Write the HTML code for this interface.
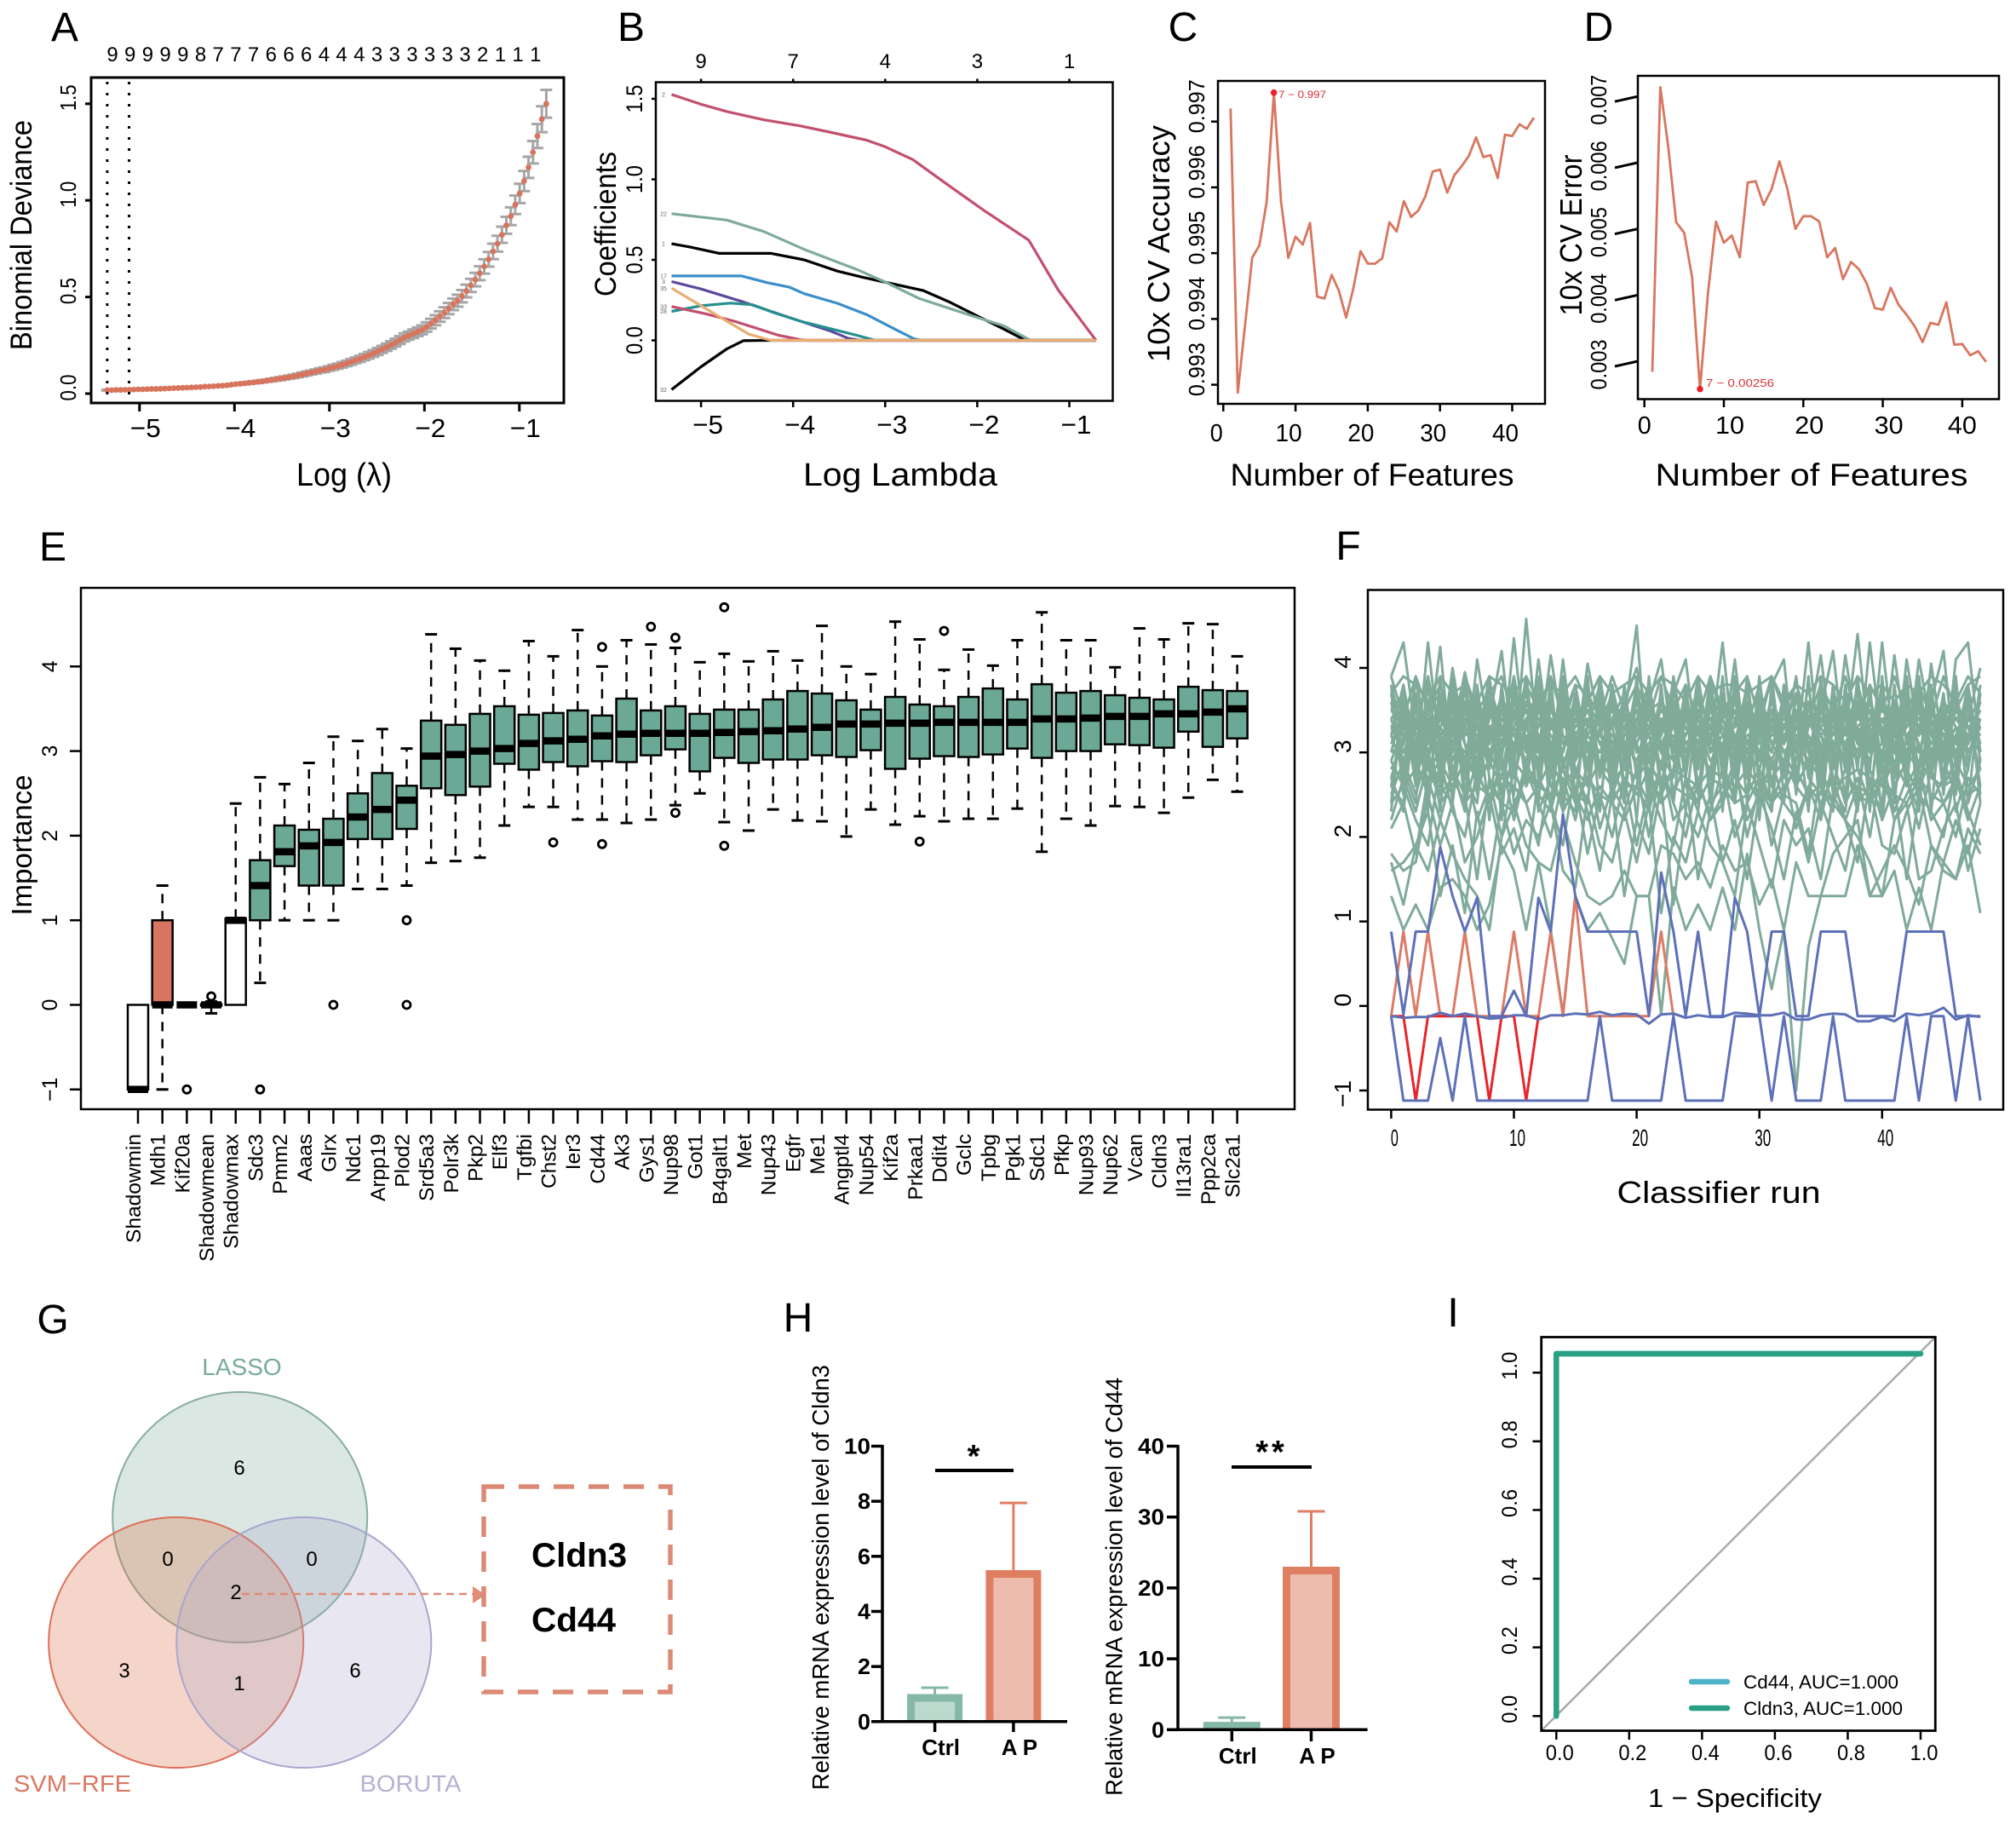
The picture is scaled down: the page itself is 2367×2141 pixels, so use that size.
<!DOCTYPE html>
<html lang="en">
<head>
<meta charset="utf-8">
<title>Feature selection figure</title>
<style>
html,body{margin:0;padding:0;background:#fff}
svg{display:block}
text{font-family:"Liberation Sans",sans-serif}
</style>
</head>
<body>
<svg id="root" xmlns="http://www.w3.org/2000/svg" width="2367" height="2141" viewBox="0 0 2367 2141">
<rect x="0" y="0" width="2367" height="2141" fill="#fff"/>

<text x="76" y="48" font-size="48" text-anchor="middle">A</text>
<text x="741" y="48" font-size="48" text-anchor="middle">B</text>
<text x="1389" y="48" font-size="48" text-anchor="middle">C</text>
<text x="1877" y="48" font-size="48" text-anchor="middle">D</text>
<text x="62" y="658" font-size="48" text-anchor="middle">E</text>
<text x="1583" y="657" font-size="48" text-anchor="middle">F</text>
<text x="62" y="1565" font-size="48" text-anchor="middle">G</text>
<text x="937" y="1563" font-size="48" text-anchor="middle">H</text>
<text x="1706" y="1557" font-size="48" text-anchor="middle">I</text>

<g id="panelA">
  <text x="37" y="276" transform="rotate(-90 37 276)" font-size="35" text-anchor="middle" textLength="270" lengthAdjust="spacingAndGlyphs">Binomial Deviance</text>
  <text x="404" y="570" font-size="38" text-anchor="middle" textLength="112" lengthAdjust="spacingAndGlyphs">Log (λ)</text>
</g>
<g id="panelB">
  <text x="723" y="263" transform="rotate(-90 723 263)" font-size="35" text-anchor="middle" textLength="170" lengthAdjust="spacingAndGlyphs">Coefficients</text>
  <text x="1057" y="570" font-size="38" text-anchor="middle" textLength="228" lengthAdjust="spacingAndGlyphs">Log Lambda</text>
</g>
<g id="panelC">
  <text x="1373" y="286" transform="rotate(-90 1373 286)" font-size="36" text-anchor="middle" textLength="278" lengthAdjust="spacingAndGlyphs">10x CV Accuracy</text>
  <text x="1611" y="570" font-size="37" text-anchor="middle" textLength="333" lengthAdjust="spacingAndGlyphs">Number of Features</text>
</g>
<g id="panelD">
  <text x="1857" y="276" transform="rotate(-90 1857 276)" font-size="36" text-anchor="middle" textLength="189" lengthAdjust="spacingAndGlyphs">10x CV Error</text>
  <text x="2127" y="570" font-size="37" text-anchor="middle" textLength="367" lengthAdjust="spacingAndGlyphs">Number of Features</text>
</g>
<g id="panelE">
  <text x="37" y="992" transform="rotate(-90 37 992)" font-size="33" text-anchor="middle" textLength="165" lengthAdjust="spacingAndGlyphs">Importance</text>
</g>
<g id="panelF">
  <text x="2018" y="1412" font-size="36" text-anchor="middle" textLength="239" lengthAdjust="spacingAndGlyphs">Classifier run</text>
</g>

<g id="panelG">
  <ellipse cx="281.7" cy="1781" rx="149.5" ry="147" fill="#7fab9a" fill-opacity="0.29" stroke="#86ad9f" stroke-width="2"/>
  <ellipse cx="206.7" cy="1928" rx="149.5" ry="147" fill="#dd6f45" fill-opacity="0.29" stroke="#dd6f58" stroke-width="2"/>
  <ellipse cx="356.8" cy="1928" rx="149.5" ry="147" fill="#a9a6cd" fill-opacity="0.27" stroke="#a9a6cd" stroke-width="2"/>
  <text x="284" y="1614" font-size="28" text-anchor="middle" fill="#77ab9b">LASSO</text>
  <text x="85" y="2103" font-size="28" text-anchor="middle" fill="#d97862" textLength="138" lengthAdjust="spacingAndGlyphs">SVM−RFE</text>
  <text x="482" y="2103" font-size="28" text-anchor="middle" fill="#b4b3d4" textLength="119" lengthAdjust="spacingAndGlyphs">BORUTA</text>
  <text x="281" y="1731" font-size="24" text-anchor="middle">6</text>
  <text x="197" y="1838" font-size="24" text-anchor="middle">0</text>
  <text x="366" y="1838" font-size="24" text-anchor="middle">0</text>
  <text x="277" y="1877" font-size="24" text-anchor="middle">2</text>
  <text x="146" y="1969" font-size="24" text-anchor="middle">3</text>
  <text x="281" y="1984" font-size="24" text-anchor="middle">1</text>
  <text x="417" y="1969" font-size="24" text-anchor="middle">6</text>
  <line x1="284" y1="1871" x2="557" y2="1871" stroke="#e08c76" stroke-width="2.5" stroke-dasharray="9 6"/>
  <polygon points="555,1862 570,1872 555,1882" fill="#e08c76"/>
  <rect x="568" y="1745" width="219" height="241" fill="none" stroke="#dc8a75" stroke-width="5.5" stroke-dasharray="24 17"/>
  <text x="624" y="1839" font-size="40" font-weight="bold" textLength="112" lengthAdjust="spacingAndGlyphs">Cldn3</text>
  <text x="624" y="1915" font-size="40" font-weight="bold" textLength="99" lengthAdjust="spacingAndGlyphs">Cd44</text>
</g>

<g id="panelH">
  <text x="973" y="1851.6" transform="rotate(-90 973 1851.6)" font-size="28" text-anchor="middle" textLength="499" lengthAdjust="spacingAndGlyphs">Relative mRNA expression level of Cldn3</text>
  <text x="1317.7" y="1862.4" transform="rotate(-90 1317.7 1862.4)" font-size="28" text-anchor="middle" textLength="491" lengthAdjust="spacingAndGlyphs">Relative mRNA expression level of Cd44</text>
  <line x1="1098" y1="1726" x2="1190" y2="1726" stroke="#000" stroke-width="4"/>
  <text x="1143" y="1722" font-size="38" font-weight="bold" text-anchor="middle">*</text>
  <line x1="1446" y1="1722" x2="1540" y2="1722" stroke="#000" stroke-width="4"/>
  <text x="1493" y="1717" font-size="38" font-weight="bold" text-anchor="middle" letter-spacing="4">**</text>
</g>

<g id="panelI">
  <text x="2037" y="2121" font-size="31" text-anchor="middle" textLength="204" lengthAdjust="spacingAndGlyphs">1 − Specificity</text>
  <line x1="1809.7" y1="2031.5" x2="2272.3" y2="1569.5" stroke="#aaa" stroke-width="2.5"/>
  <line x1="1986" y1="1974" x2="2028" y2="1974" stroke="#4db3c9" stroke-width="6.5" stroke-linecap="round"/>
  <text x="2047" y="1982" font-size="22" textLength="182" lengthAdjust="spacingAndGlyphs">Cd44, AUC=1.000</text>
  <line x1="1986" y1="2005" x2="2028" y2="2005" stroke="#2aa085" stroke-width="6.5" stroke-linecap="round"/>
  <text x="2047" y="2013" font-size="22" textLength="187" lengthAdjust="spacingAndGlyphs">Cldn3, AUC=1.000</text>
</g>
</svg>

<script>
/* ---------- Panel A data ---------- */
const aStartLogLambda = -5.34;
const aStepLogLambda = 0.0467;
const aDeviance = [.018,.018,.019,.019,.020,.020,.021,.022,.022,.023,.024,.024,.025,.026,.027,.028,.029,.030,.031,.032,.033,.034,.036,.037,.038,.040,.041,.043,.046,.049,.051,.053,.056,.058,.061,.064,.067,.070,.074,.077,.081,.085,.089,.094,.099,.104,.109,.114,.120,.124,.130,.136,.142,.149,.156,.164,.172,.180,.189,.198,.208,.218,.229,.240,.252,.264,.277,.291,.300,.310,.320,.330,.345,.362,.380,.399,.419,.440,.462,.481,.504,.531,.560,.590,.623,.658,.695,.736,.776,.822,.871,.918,.977,1.036,1.100,1.171,1.249,1.333,1.420,1.500];
const aStdErr = [.002,.002,.002,.002,.002,.002,.002,.002,.002,.002,.002,.002,.002,.002,.002,.002,.002,.003,.003,.003,.003,.003,.003,.003,.003,.003,.004,.004,.004,.004,.005,.005,.005,.005,.006,.006,.006,.007,.007,.008,.008,.008,.009,.009,.010,.010,.010,.011,.011,.012,.012,.013,.013,.014,.014,.015,.015,.016,.016,.017,.017,.018,.018,.019,.019,.020,.020,.021,.021,.022,.022,.023,.024,.025,.026,.027,.028,.029,.030,.031,.032,.033,.034,.035,.036,.037,.038,.040,.041,.042,.044,.046,.048,.050,.052,.055,.058,.062,.067,.072];
const aTopCounts = ['9','9','9','9','9','8','7','7','7','6','6','6','4','4','4','3','3','3','3','3','3','2','1','1','1'];
const aXTicks = [-5,-4,-3,-2,-1];
const aYTicks = [0,0.5,1,1.5];
const aCutoffs = [-5.34,-5.11];

/* ---------- Panel B data ---------- */
const bXTicks = [-5,-4,-3,-2,-1];
const bYTicks = [0,0.5,1,1.5];
const bTopLabels = ['9','7','4','3','1'];
const bLambdaRed = [-5.32,-5,-4.72,-4.32,-3.92,-3.52,-3.2,-3,-2.7,-2.32,-1.92,-1.44,-1.12,-0.71];
const bCoefRed = [1.527,1.466,1.421,1.37,1.332,1.283,1.243,1.202,1.123,.966,.804,.622,.312,0];
const bLambdaGreen = [-5.32,-4.72,-4.32,-3.88,-3.31,-2.99,-2.63,-2.31,-1.99,-1.71,-1.42,-0.71];
const bCoefGreen = [.787,.747,.676,.565,.441,.36,.26,.2,.14,.09,0,0];
const bLambdaBlack = [-5.32,-5.12,-4.8,-4.52,-4.24,-3.88,-3.52,-3.23,-2.99,-2.59,-2.31,-2.03,-1.71,-1.51,-1.42,-0.71];
const bCoefBlack = [.6,.58,.54,.54,.54,.5,.43,.39,.36,.31,.24,.16,.07,.01,0,0];
const bLambdaBlue = [-5.32,-4.96,-4.56,-4.28,-4.04,-3.88,-3.52,-3.2,-2.88,-2.68,-2.6,-0.71];
const bCoefBlue = [.4,.4,.4,.358,.33,.29,.23,.16,.065,.008,0,0];
const bLambdaPurple = [-5.32,-5,-4.56,-4.24,-3.92,-3.6,-3.4,-3.27,-0.71];
const bCoefPurple = [.365,.319,.242,.18,.119,.059,.012,0,0];
const bLambdaTeal = [-5.32,-5,-4.68,-4.44,-4.2,-3.92,-3.6,-3.31,-3.11,-0.71];
const bCoefTeal = [.18,.215,.231,.221,.17,.119,.073,.032,0,0];
const bLambdaRose = [-5.32,-4.96,-4.64,-4.44,-4.16,-3.92,-3.84,-0.71];
const bCoefRose = [.21,.166,.119,.083,.032,.004,0,0];
const bLambdaNeg = [-5.32,-5,-4.72,-4.54,-4.24,-0.71];
const bCoefNeg = [-.306,-.164,-.053,-.002,0,0];
const bLambdaOrange = [-5.32,-5,-4.72,-4.48,-4.24,-0.71];
const bCoefOrange = [.324,.215,.119,.038,0,0];

/* ---------- Panels C & D data ---------- */
const cFeatureTicks = [0,10,20,30,40];
const cYTicks = [0.993,0.994,0.995,0.996,0.997];
const cAccuracy = [.99720,.99288,.99389,.99493,.99512,.99578,.99744,.99578,.99493,.99525,.99513,.99546,.99434,.99431,.99467,.99443,.99402,.99446,.99503,.99484,.99484,.99492,.99547,.99533,.99579,.99555,.99565,.99587,.99624,.99627,.99592,.99619,.99632,.99648,.99676,.99646,.99649,.99614,.99680,.99678,.99696,.99689,.99706];
const dFeatureTicks = [0,10,20,30,40];
const dYTicks = [0.003,0.004,0.005,0.006,0.007];
const dError = [.00284,.00714,.00624,.0051,.00494,.00427,.00258,.00402,.00511,.00479,.0049,.00457,.0057,.00572,.00536,.0056,.00602,.0056,.005,.00519,.00519,.00511,.00457,.00471,.00424,.0045,.00439,.00417,.0038,.00378,.00411,.00385,.0037,.00353,.00329,.00358,.00355,.00389,.00325,.00326,.00309,.00315,.00299];

/* ---------- Panel E data ---------- */
const eNames = ['Shadowmin','Mdh1','Kif20a','Shadowmean','Shadowmax','Sdc3','Pmm2','Aaas','Glrx','Ndc1','Arpp19','Plod2','Srd5a3','Polr3k','Pkp2','Elf3','Tgfbi','Chst2','Ier3','Cd44','Ak3','Gys1','Nup98','Got1','B4galt1','Met','Nup43','Egfr','Me1','Angptl4','Nup54','Kif2a','Prkaa1','Ddit4','Gclc','Tpbg','Pgk1','Sdc1','Pfkp','Nup93','Nup62','Vcan','Cldn3','Il13ra1','Ppp2ca','Slc2a1'];
const eLow = [-1,-1,0,-.1,0,.26,1,1,1,1.37,1.37,1.41,1.68,1.70,1.74,2.12,2.34,2.34,2.19,2.19,2.15,2.19,2.36,2.5,2.16,2.06,2.31,2.18,2.17,1.99,2.31,2.13,2.23,2.17,2.2,2.2,2.32,1.81,2.2,2.12,2.35,2.34,2.27,2.45,2.66,2.52];
const eQ1 = [-1,0,0,-.01,0,1,1.64,1.41,1.41,1.96,1.96,2.08,2.56,2.48,2.58,2.85,2.78,2.87,2.82,2.88,2.87,2.95,3.02,2.76,2.92,2.86,2.9,2.9,2.95,2.93,3.01,2.79,2.91,2.94,2.93,2.96,3.03,2.92,3.0,3.0,3.08,3.07,3.04,3.23,3.05,3.15];
const eMedian = [-1,0,0,0,1,1.41,1.81,1.88,1.92,2.22,2.31,2.42,2.94,2.96,3.0,3.03,3.09,3.12,3.14,3.18,3.2,3.21,3.21,3.21,3.22,3.23,3.24,3.26,3.28,3.32,3.32,3.33,3.33,3.34,3.34,3.34,3.34,3.38,3.38,3.39,3.41,3.41,3.44,3.44,3.46,3.5];
const eQ3 = [0,1,0,.01,1.02,1.71,2.12,2.07,2.2,2.5,2.74,2.59,3.36,3.31,3.44,3.53,3.43,3.45,3.48,3.42,3.62,3.48,3.53,3.44,3.49,3.49,3.61,3.71,3.68,3.6,3.49,3.64,3.55,3.53,3.64,3.74,3.61,3.79,3.69,3.71,3.66,3.63,3.61,3.76,3.72,3.71];
const eHigh = [0,1.41,0,.04,2.38,2.69,2.61,2.86,3.17,3.12,3.26,3.03,4.38,4.21,4.07,3.95,4.3,4.12,4.43,4.0,4.31,4.26,4.22,4.05,4.15,4.06,4.18,4.07,4.48,4.0,3.91,4.53,4.32,3.96,4.2,4.01,4.31,4.64,4.31,4.31,3.99,4.45,4.32,4.51,4.5,4.12];
const eOutliers = [[],[],[-1],[.1],[],[-1],[],[],[0],[],[],[1,0],[],[],[],[],[],[1.92],[],[4.23,1.9],[],[4.47],[4.34,2.27],[],[4.7,1.88],[],[],[],[],[],[],[],[1.93],[4.42],[],[],[],[],[],[],[],[],[],[],[],[]];
const eYTicks = [-1,0,1,2,3,4];

/* ---------- Panel F data ---------- */
const fXTicks = [0,10,20,30,40];
const fYTicks = [-1,0,1,2,3,4];
const fGreenRuns = [
[1.3,.9,1.2,.9,1.4,1.5,1.3,.9,1.2,1.9,1.6,.9,1.7,.9,-.1,1.3,.9,1.1,.8,.5,1.3,1.3,-.1,1.4,.9,1.2,.9,1.4,.9,1.8,.9,.2,.9,-1,.7,1.3,1.3,1.3,1.9,1.3,1.3,1.6,.9,1.4,.9,1.7,1.5,1.9,1.1],
[1.7,1.2,1.9,1.6,2.2,1.8,1.5,1.3,.9,2.0,2.4,1.9,1.7,1.6,2.2,1.7,1.3,1.2,1.3,1.6,1.3,1.3,1.9,1.8,1.5,1.7,1.4,1.9,1.6,1.7,1.2,1.5,.9,1.7,1.3,1.3,1.8,2.0,2.2,1.3,1.6,1.9,1.6,1.2,1.9,1.6,1.5,2.1,1.8],
[1.6,1.7,1.9,2.3,1.3,1.9,1.1,2.3,1.5,2.4,1.8,2.2,2.0,2.4,1.6,1.4,2.5,1.9,1.7,2.3,1.7,2.4,1.1,2.0,1.7,2.3,1.9,1.7,1.3,2.4,1.9,1.4,2.2,1.9,2.1,1.5,2.5,2.2,2.0,1.7,1.3,2.2,2.4,1.5,1.6,2.1,2.4,1.6,2.1],
[1.8,1.6,1.7,2.5,1.9,2.4,1.7,2.0,2.5,1.8,2.1,1.6,2.7,2.4,1.9,2.8,2.3,1.6,2.5,1.3,2.2,1.8,2.6,1.2,2.3,2.0,2.5,1.7,2.2,1.5,2.5,2.1,1.5,2.3,1.7,2.4,2.0,1.6,2.4,2.6,1.9,1.8,2.3,2.6,1.9,1.7,2.2,1.8,2.4],
[2.1,2.4,1.8,2.7,2.2,2.8,2.5,1.5,2.7,2.0,2.8,2.4,1.9,2.8,2.3,2.6,1.8,2.5,2.0,2.7,1.9,2.6,2.2,1.9,2.7,1.5,2.3,2.8,2.0,2.4,2.7,1.9,2.5,2.4,1.8,2.8,2.4,2.2,1.7,2.7,2.2,2.6,1.5,2.5,2.3,2.0,2.8,2.3,1.9],
[2.4,2.6,2.2,1.9,2.9,2.3,2.0,2.8,2.4,2.9,2.2,2.8,2.4,2.0,2.7,2.2,2.9,2.1,2.6,2.3,2.8,2.0,2.9,2.4,2.0,2.7,2.2,2.5,2.9,2.0,2.6,2.4,2.8,2.1,2.6,2.2,2.9,2.4,2.7,2.0,2.9,2.3,2.7,2.1,2.8,2.4,2.0,2.7,2.5],
[3.9,4.3,3.2,2.6,3.5,3.0,3.9,2.8,3.4,4.2,2.9,3.6,3.1,2.7,3.8,3.2,2.9,3.6,3.1,3.4,4.5,2.6,3.3,3.8,2.8,3.5,3.1,4.3,2.9,3.4,3.7,2.6,3.5,3.0,4.3,2.8,3.6,3.2,4.4,3.0,3.3,2.7,4.1,3.2,3.6,4.2,2.8,3.4,4.0],
[2.6,3.4,2.8,4.3,3.0,3.6,2.7,4.1,3.2,2.9,4.35,3.0,3.7,2.8,4.1,2.9,4.05,3.3,2.7,3.6,4.0,3.4,2.8,3.7,4.1,2.9,3.6,3.0,4.1,2.8,3.5,3.8,4.1,2.7,3.3,4.15,3.0,3.7,2.8,4.3,3.1,3.6,2.9,4.1,3.3,2.7,4.1,4.3,3.0],
[3.2,2.8,3.9,3.1,4.25,2.7,3.5,3.0,3.8,3.3,2.8,4.58,3.0,4.15,3.2,2.9,3.6,3.9,3.0,3.3,2.8,3.6,4.1,3.0,3.5,2.8,3.9,3.4,3.0,3.6,2.9,3.7,3.1,3.9,2.7,3.5,4.2,2.9,3.6,3.1,3.8,2.8,3.4,3.9,2.7,3.5,3.1,3.8,2.9],
[3.5,3.7,2.7,3.3,2.9,4.0,3.1,2.6,3.7,3.0,3.5,2.8,4.1,3.0,3.6,2.7,3.3,3.8,2.9,3.5,3.1,2.7,3.6,3.3,2.9,3.9,3.0,3.4,3.7,2.8,3.3,3.9,2.7,3.5,3.0,3.6,2.9,4.15,3.2,2.8,4.3,3.0,3.6,2.8,4.05,3.0,3.7,3.1,3.6],
[2.8,3.1,3.5,2.9,3.6,3.2,3.95,3.3,2.8,3.5,3.0,3.9,2.7,3.4,3.0,3.7,2.8,3.3,3.7,2.9,3.4,3.8,3.0,2.7,3.5,3.1,3.7,2.8,3.4,3.0,3.6,3.3,2.8,3.7,3.1,2.7,3.5,3.0,3.8,3.3,2.9,4.15,3.1,3.5,2.9,3.6,3.3,2.8,3.7],
[3.0,3.6,2.6,3.8,2.8,3.4,2.9,3.7,3.1,3.6,2.7,3.3,3.8,2.9,3.5,3.0,3.7,2.7,3.4,3.0,3.6,3.2,2.8,3.9,3.0,3.3,2.7,3.6,3.1,3.8,2.9,3.4,3.0,2.7,3.6,3.2,2.8,3.5,3.1,3.7,2.9,3.3,2.7,3.6,3.0,3.4,3.7,3.0,3.3],
[3.4,2.9,3.3,3.9,3.2,2.7,3.6,3.1,3.9,2.8,3.3,3.7,3.0,3.6,2.8,3.4,3.1,2.8,3.6,3.0,3.8,2.9,3.4,3.1,3.7,3.0,2.8,3.5,3.2,2.7,3.4,3.0,3.7,3.1,2.9,3.8,3.2,3.5,2.9,3.4,3.6,3.0,2.8,3.7,3.2,2.9,3.5,3.3,2.8],
[2.9,3.3,3.0,3.5,2.7,3.8,3.3,2.9,3.5,3.2,3.9,3.1,2.8,3.5,3.3,3.8,3.0,3.6,2.8,3.2,3.5,3.0,3.7,2.9,3.2,3.6,3.3,2.9,3.7,3.1,3.0,3.5,2.7,3.3,3.6,3.0,3.4,2.8,3.5,3.0,3.7,3.2,2.9,3.3,3.7,2.7,3.2,3.6,3.1],
[3.7,2.7,3.6,3.0,3.4,3.1,2.8,3.5,3.0,2.7,3.6,3.3,3.4,3.0,3.9,3.1,3.4,2.8,3.8,3.1,2.9,3.3,3.0,3.5,2.7,3.8,3.1,3.3,2.8,3.5,3.2,2.9,3.3,3.5,3.0,3.3,3.0,3.6,3.2,2.9,3.4,3.0,3.5,3.1,2.8,3.4,3.0,3.2,3.5],
[3.1,3.5,2.9,3.2,3.6,2.9,3.3,3.7,2.9,3.4,3.2,2.9,3.5,3.2,3.0,3.5,2.8,3.5,3.3,2.8,3.3,3.6,3.1,2.9,3.4,3.0,3.5,3.2,2.9,3.3,3.8,3.1,2.9,3.4,3.2,2.9,3.6,3.0,3.3,3.5,2.8,3.4,3.2,3.0,3.5,3.2,2.9,3.7,3.0],
[3.3,3.0,3.4,2.8,3.0,3.5,3.1,2.9,3.3,3.0,3.4,3.6,3.2,2.9,3.4,2.9,3.2,3.0,3.4,3.7,3.0,3.2,3.5,3.3,3.0,3.3,2.9,3.1,3.5,3.0,2.8,3.3,3.5,3.0,2.8,3.4,3.1,3.3,3.0,3.6,3.2,2.8,3.6,3.3,3.0,3.1,3.6,2.9,3.4],
[2.7,3.2,3.1,3.4,3.3,3.0,3.4,3.2,3.1,3.7,3.0,3.2,2.9,3.3,3.1,3.3,3.5,3.1,2.9,3.1,3.3,2.9,3.2,3.6,3.3,3.0,3.3,3.7,3.0,3.2,3.3,2.8,3.2,3.0,3.4,3.1,2.8,3.3,3.7,3.2,3.0,3.5,3.0,2.8,3.3,3.5,3.1,3.0,3.3],
[3.6,3.4,3.3,3.1,3.1,3.3,2.8,3.4,3.6,3.1,3.3,3.0,3.3,3.7,2.9,3.1,3.3,3.4,3.2,3.0,3.2,3.4,3.0,3.2,2.9,3.4,3.0,3.2,3.3,3.7,3.1,3.3,3.0,3.2,3.3,3.5,3.3,3.1,2.9,3.2,3.4,3.1,3.3,3.5,3.1,3.3,3.0,3.4,3.2],
[3.0,3.1,3.7,3.3,3.5,3.2,3.0,3.3,3.0,3.3,3.1,3.4,3.6,3.1,3.3,3.5,3.1,3.2,3.0,3.5,3.0,3.1,3.4,3.0,3.6,3.2,3.4,3.0,3.2,2.9,3.4,3.1,3.3,3.7,3.1,3.2,3.0,3.4,3.3,3.0,3.1,3.3,3.8,3.0,3.4,3.0,3.3,3.1,3.6],
[3.2,3.8,3.0,3.6,3.1,3.4,3.6,3.0,3.3,3.1,3.7,3.1,3.0,3.4,3.2,3.0,3.6,3.3,3.5,3.2,3.4,3.0,3.3,3.1,3.3,3.0,3.6,3.3,3.0,3.4,3.2,3.0,3.6,3.1,3.4,3.0,3.3,3.1,3.5,3.3,3.6,3.0,3.1,3.3,3.5,3.2,3.4,3.2,3.0],
[3.8,3.2,3.4,3.0,3.3,3.6,3.2,3.5,3.2,3.5,3.4,3.7,3.3,3.6,3.1,3.4,3.2,3.5,3.1,3.3,3.6,3.4,3.1,3.4,3.2,3.5,3.2,3.4,3.6,3.1,3.5,3.3,3.1,3.4,3.5,3.2,3.4,3.6,3.1,3.4,3.2,3.5,3.3,3.6,3.2,3.5,3.1,3.4,3.6],
[3.3,3.5,3.1,3.5,3.7,3.1,3.5,3.3,3.6,3.3,3.2,3.5,3.1,3.3,3.6,3.2,3.5,3.1,3.3,3.6,3.2,3.5,3.3,3.6,3.1,3.3,3.5,3.2,3.3,3.5,3.2,3.6,3.3,3.1,3.3,3.6,3.1,3.3,3.2,3.5,3.3,3.1,3.4,3.2,3.5,3.3,3.6,3.3,3.2],
[3.5,3.3,3.5,3.3,3.4,3.5,3.3,3.1,3.4,3.6,3.5,3.3,3.4,3.5,3.3,3.6,3.3,3.4,3.5,3.4,3.5,3.3,3.5,3.3,3.4,3.6,3.4,3.5,3.2,3.3,3.4,3.5,3.2,3.3,3.6,3.4,3.5,3.2,3.4,3.3,3.5,3.3,3.5,3.4,3.3,3.6,3.4,3.5,3.3],
[2.5,2.9,2.5,3.0,2.5,2.7,2.4,2.6,2.5,2.7,2.6,2.4,2.6,2.5,2.8,2.4,2.7,2.5,2.4,2.7,2.5,2.8,2.4,2.6,2.5,2.4,2.7,2.6,2.4,2.5,2.8,2.4,2.6,2.8,2.5,2.6,2.4,2.8,2.5,2.4,2.7,2.5,2.4,2.7,2.5,2.4,2.6,2.5,2.6],
[3.7,3.9,3.8,3.6,3.9,3.7,3.8,3.6,3.9,3.8,3.7,3.9,3.6,3.8,3.7,3.9,3.6,3.9,3.7,3.8,3.9,3.7,3.9,3.8,3.6,3.9,3.7,3.8,3.8,3.7,3.8,3.9,3.6,3.8,3.7,3.9,3.8,3.6,3.9,3.7,3.8,3.6,3.8,3.7,3.9,3.8,3.6,3.9,3.7],
[2.9,2.6,2.8,2.7,2.9,2.6,2.9,2.7,2.9,2.6,2.9,2.7,2.6,2.9,2.6,2.8,2.6,2.9,2.7,2.8,2.7,2.9,2.6,2.8,2.7,2.6,2.8,2.7,2.6,2.8,2.6,2.7,2.9,2.6,2.9,2.7,2.6,2.7,2.8,2.7,2.6,2.9,2.6,2.9,2.7,2.6,2.9,2.6,2.8],
[3.4,3.6,3.2,3.4,3.2,3.4,3.7,3.4,3.3,3.4,3.2,3.1,3.6,3.3,3.5,3.3,3.4,3.2,3.6,3.4,3.1,3.5,3.6,3.4,3.3,3.2,3.6,3.5,3.4,3.6,3.3,3.2,3.4,3.3,3.1,3.3,3.5,3.4,3.6,3.1,3.4,3.4,3.2,3.4,3.2,3.3,3.5,3.3,3.4],
[2.4,3.8,2.6,3.4,2.3,3.9,2.5,3.6,2.2,3.8,2.7,3.4,2.4,3.9,2.3,3.6,2.6,3.8,2.4,3.5,2.2,3.9,2.6,3.4,2.3,3.7,2.5,3.9,2.4,3.6,2.2,3.8,2.7,3.5,2.3,3.9,2.5,3.6,2.4,3.8,2.2,3.5,2.6,3.9,2.3,3.7,2.5,3.8,2.4],
[3.8,2.5,3.7,2.3,3.9,2.4,3.6,2.5,3.8,2.2,3.9,2.6,3.7,2.3,3.6,2.4,3.9,2.3,3.7,2.5,3.9,2.3,3.8,2.4,3.6,2.5,3.8,2.3,3.9,2.4,3.7,2.3,3.8,2.5,3.9,2.2,3.7,2.4,3.8,2.3,3.9,2.4,3.7,2.3,3.8,2.5,3.9,2.4,3.7],
[2.7,2.3,3.6,2.6,2.8,3.7,2.4,2.9,3.7,2.5,2.9,3.8,2.3,2.7,3.8,2.5,2.4,3.7,2.9,2.4,3.7,2.6,2.5,3.8,2.7,2.3,3.6,2.9,2.4,3.8,2.6,2.3,3.7,2.8,2.5,3.7,2.6,2.3,3.6,2.8,2.4,3.8,2.7,2.3,3.6,2.9,2.5,3.6,2.6],
[2.3,3.7,2.9,2.5,3.7,2.8,2.3,3.8,2.7,2.4,3.7,2.6,2.9,3.7,2.5,2.3,3.8,2.8,2.6,3.8,2.7,2.4,3.7,2.5,2.9,3.8,2.4,2.6,3.7,2.7,2.4,3.7,2.5,2.9,3.8,2.6,2.3,3.8,2.8,2.4,3.7,2.6,2.9,3.8,2.4,2.7,3.8,2.4,2.9],
[3.6,2.8,2.4,3.9,2.6,2.4,3.8,2.6,2.9,3.7,2.4,2.7,3.9,2.6,2.4,3.7,2.8,2.3,3.8,2.6,2.6,3.7,2.5,2.8,3.8,2.6,2.3,3.7,2.7,2.5,3.9,2.6,2.4,3.7,2.7,2.5,3.8,2.9,2.3,3.7,2.6,2.4,3.9,2.6,2.9,3.7,2.3,2.8,3.8],
[2.6,2.4,3.9,2.8,2.5,3.8,2.7,2.4,3.6,2.8,2.5,3.9,2.7,2.4,3.7,2.8,2.4,3.9,2.5,2.9,3.8,2.7,2.4,3.6,2.7,2.4,3.9,2.7,2.5,3.9,2.7,2.4,3.8,2.6,2.4,3.6,2.7,2.5,3.9,2.6,2.3,3.6,2.8,2.5,3.7,2.6,2.7,3.7,2.5],
[2.2,2.7,2.3,2.9,2.4,2.6,2.9,2.2,2.6,2.4,2.3,2.9,2.5,2.3,2.9,2.5,2.2,2.6,2.4,2.2,2.6,2.3,2.9,2.2,2.4,2.7,2.2,2.4,2.8,2.2,2.5,2.9,2.4,2.2,2.6,2.4,2.7,2.2,2.6,2.5,2.8,2.2,2.5,2.8,2.2,2.4,2.7,2.2,2.6],
[3.9,3.4,3.9,3.5,3.8,3.3,3.9,3.5,3.7,3.9,3.4,3.8,3.5,3.9,3.4,3.8,3.7,3.4,3.9,3.5,3.8,3.4,3.9,3.5,3.8,3.4,3.9,3.5,3.7,3.9,3.4,3.9,3.5,3.8,3.4,3.8,3.5,3.9,3.4,3.8,3.5,3.9,3.5,3.8,3.4,3.9,3.5,3.8,3.9]
];
const fOrangeRun = [-.12,.88,-.12,.88,-.12,-.12,.88,-.12,-.12,-.12,.88,-.12,-.12,.88,-.12,1.3,-.12,-.12,-.12,-.12,-.12,-.12,.88,-.12];
const fRedRun = [-.12,-.12,-1.12,-.12,-.12,-.12,-.12,-.12,-1.12,-.12,-.12,-1.12,-.12];
const fBlueMax = [.88,-.1,.88,.88,1.88,1.3,.88,1.28,-.12,-.12,.18,-.12,1.28,.88,2.27,1.3,.88,.88,.88,.88,.88,-.12,1.58,.88,-.12,.88,-.12,-.12,1.28,.88,-.12,.88,.88,-.12,-.12,.88,.88,.88,-.12,-.12,-.12,-.12,.88,.88,.88,.88,-.12,-.12,-.12];
const fBlueMean = [-.12,-.14,-.13,-.13,-.08,-.12,-.09,-.12,-.15,-.14,-.11,-.11,-.16,-.11,-.11,-.09,-.1,-.07,-.11,-.09,-.1,-.21,-.1,-.09,-.14,-.11,-.13,-.13,-.08,-.09,-.11,-.11,-.08,-.16,-.16,-.11,-.09,-.1,-.18,-.18,-.13,-.18,-.09,-.11,-.09,-.02,-.16,-.11,-.13];
const fBlueMin = [-.12,-1.12,-1.12,-1.12,-.38,-1.12,-.12,-1.12,-1.12,-1.12,-1.12,-1.12,-1.12,-1.12,-1.12,-1.12,-1.12,-.12,-1.12,-1.12,-1.12,-1.12,-1.12,-.12,-1.12,-1.12,-1.12,-1.12,-.12,-.12,-.12,-1.12,-.12,-1.12,-1.12,-1.12,-.12,-1.12,-1.12,-1.12,-1.12,-1.12,-.12,-1.12,-.12,-.12,-1.12,-.12,-1.12];

/* ---------- Panel H data ---------- */
const hGroups = ['Ctrl','A P'];
const hCldn3Mean = [1,5.5];
const hCldn3Upper = [1.23,7.94];
const hCldn3Ticks = [0,2,4,6,8,10];
const hCd44Mean = [1.1,23];
const hCd44Upper = [1.7,30.8];
const hCd44Ticks = [0,10,20,30,40];

/* ---------- Panel I data ---------- */
const iFpr = [0,0,1];
const iTprCd44 = [0,1.055,1.055];
const iTprCldn3 = [0,1.055,1.055];
const iTicks = [0,0.2,0.4,0.6,0.8,1];

/* ---------- helpers ---------- */
const NS = 'http://www.w3.org/2000/svg';
function mk(tag, attrs, parent) {
  const el = document.createElementNS(NS, tag);
  for (const k in attrs) el.setAttribute(k, attrs[k]);
  parent.appendChild(el);
  return el;
}
function frame(parent, name, x0, y0, x1, y1, w) {
  const el = mk('rect', {x:x0, y:y0, width:x1-x0, height:y1-y0, fill:'none', stroke:'#000', 'stroke-width':w}, parent);
  
  
  return el;
}
function seg(parent, name, x1, y1, x2, y2, color, w, dash) {
  const el = mk('line', {x1:x1, y1:y1, x2:x2, y2:y2, stroke:color, 'stroke-width':w}, parent);
  if (dash) el.setAttribute('stroke-dasharray', dash);
  
  
  return el;
}
function trace(parent, name, xs, ys, color, w) {
  const pts = xs.map((x, i) => x.toFixed(1) + ',' + ys[i].toFixed(1)).join(' ');
  const el = mk('polyline', {points:pts, fill:'none', stroke:color, 'stroke-width':w, 'stroke-linejoin':'round'}, parent);
  
  
  return el;
}
function label(parent, name, s, x, y, o) {
  o = o || {};
  const el = mk('text', {x:x, y:y, 'font-size':o.size || 26, 'text-anchor':o.anchor || 'middle', fill:o.fill || '#000'}, parent);
  if (o.bold) el.setAttribute('font-weight', 'bold');
  if (o.rot) el.setAttribute('transform', 'rotate(' + o.rot + ' ' + x + ' ' + y + ')');
  if (o.len) { el.setAttribute('textLength', o.len); el.setAttribute('lengthAdjust', 'spacingAndGlyphs'); }
  el.textContent = s;
  
  
  return el;
}
function neg(v, digits) {
  const s = digits === undefined ? String(Math.abs(v)) : Math.abs(v).toFixed(digits);
  return (v < 0 ? '−' : '') + s;
}

/* ---------- Panel A ---------- */
(function () {
  const g = document.getElementById('panelA');
  const x = v => 163.8 + (v + 5) * 111.5;
  const y = v => 462 - v * 226.8;
  aDeviance.forEach((d, i) => {
    const lx = x(aStartLogLambda + i * aStepLogLambda);
    const e = aStdErr[i];
    seg(g, 'a-error-bar', lx, y(d - e), lx, y(d + e), '#a6a6a6', 3);
    seg(g, 'a-error-cap-high', lx - 7, y(d + e), lx + 7, y(d + e), '#a6a6a6', 3);
    seg(g, 'a-error-cap-low', lx - 7, y(d - e), lx + 7, y(d - e), '#a6a6a6', 3);
  });
  aDeviance.forEach((d, i) => {
    const c = mk('circle', {cx:x(aStartLogLambda + i * aStepLogLambda), cy:y(d), r:3.4, fill:'#d9745c'}, g);
    
    
  });
  aCutoffs.forEach(v => seg(g, 'a-lambda-cutoff', x(v), 96, x(v), 470, '#000', 3, '3 10'));
  frame(g, 'a-plot-frame', 107, 91, 662, 473, 3);
  aXTicks.forEach(v => {
    seg(g, 'a-x-tick', x(v), 473, x(v), 483, '#000', 3);
    label(g, 'a-x-tick-label', neg(v), x(v) + 7, 513, {size:31, len:36});
  });
  aYTicks.forEach(v => {
    seg(g, 'a-y-tick', 100, y(v), 107, y(v), '#000', 3);
    label(g, 'a-y-tick-label', v.toFixed(1), 89, y(v) - 7, {size:26, rot:-90, len:31});
  });
  aTopCounts.forEach((c, i) => {
    label(g, 'a-top-count', c, 132 + i * 20.7, 72, {size:24});
  });
})();

/* ---------- Panel B ---------- */
(function () {
  const g = document.getElementById('panelB');
  const x = v => 823.1 + (v + 5) * 108.1;
  const y = v => 399.5 - v * 189;
  const series = [
    ['b-path-black-negative', bLambdaNeg, bCoefNeg, '#000', '32'],
    ['b-path-black', bLambdaBlack, bCoefBlack, '#000', '1'],
    ['b-path-sage', bLambdaGreen, bCoefGreen, '#7fab9a', '22'],
    ['b-path-blue', bLambdaBlue, bCoefBlue, '#3a8fc9', '17'],
    ['b-path-purple', bLambdaPurple, bCoefPurple, '#5d4a9b', '3'],
    ['b-path-teal', bLambdaTeal, bCoefTeal, '#25908f', '28'],
    ['b-path-rose', bLambdaRose, bCoefRose, '#c2506e', '33'],
    ['b-path-crimson', bLambdaRed, bCoefRed, '#c2506e', '2'],
    ['b-path-orange', bLambdaOrange, bCoefOrange, '#e9ad72', '35']
  ];
  series.forEach(s => {
    trace(g, s[0], s[1].map(x), s[2].map(y), s[3], 3.2);
    label(g, 'b-path-id', s[4], 779, y(s[2][0]) + 2.5, {size:7, fill:'#666'});
  });
  frame(g, 'b-plot-frame', 770, 96.5, 1306.5, 470.5, 2.5);
  bXTicks.forEach((v, i) => {
    seg(g, 'b-x-tick', x(v), 470.5, x(v), 478, '#000', 2.5);
    seg(g, 'b-top-tick', x(v), 92.5, x(v), 96.5, '#000', 2.5);
    label(g, 'b-x-tick-label', neg(v), x(v) + 8, 509, {size:31, len:36});
    label(g, 'b-top-label', bTopLabels[i], x(v), 80, {size:24});
  });
  bYTicks.forEach(v => {
    seg(g, 'b-y-tick', 765, y(v), 770, y(v), '#000', 2.5);
    label(g, 'b-y-tick-label', v.toFixed(1), 754, y(v), {size:27, rot:-90, len:33});
  });
})();

/* ---------- Panel C ---------- */
(function () {
  const g = document.getElementById('panelC');
  const x = v => 1436.3 + v * 8.48;
  const y = v => 451.6 - (v - 0.993) * 77225;
  frame(g, 'c-plot-frame', 1430, 95, 1814, 474, 2.5);
  trace(g, 'c-accuracy-line', cAccuracy.map((_, i) => x(i + 1)), cAccuracy.map(y), '#d8765f', 2.8);
  const best = cAccuracy.indexOf(Math.max.apply(null, cAccuracy));
  const m = mk('circle', {cx:x(best + 1), cy:y(cAccuracy[best]), r:3.8, fill:'#e8212b'}, g);
  
  
  label(g, 'c-best-label', (best + 1) + ' − 0.997', 1501, 115, {size:12, anchor:'start', fill:'#d9303a', len:56});
  cFeatureTicks.forEach(v => {
    seg(g, 'c-x-tick', x(v), 474, x(v), 483, '#000', 2.5);
    label(g, 'c-x-tick-label', String(v), x(v) - 8, 518, {size:29, len:v ? 31 : 15});
  });
  cYTicks.forEach(v => {
    seg(g, 'c-y-tick', 1422, y(v), 1430, y(v), '#000', 2.5);
    label(g, 'c-y-tick-label', v.toFixed(3), 1414, y(v) - 18, {size:26, rot:-90, len:63});
  });
})();

/* ---------- Panel D ---------- */
(function () {
  const g = document.getElementById('panelD');
  const x = v => 1930.7 + v * 9.33;
  const y = v => 424 - (v - 0.003) * 77700;
  frame(g, 'd-plot-frame', 1923, 89, 2347, 468.5, 2.5);
  trace(g, 'd-error-line', dError.map((_, i) => x(i + 1)), dError.map(y), '#d8765f', 2.8);
  const best = dError.indexOf(Math.min.apply(null, dError));
  const m = mk('circle', {cx:x(best + 1), cy:y(dError[best]), r:3.8, fill:'#e8212b'}, g);
  
  
  label(g, 'd-best-label', (best + 1) + ' − 0.00256', 2003, 454, {size:13, anchor:'start', fill:'#d9303a', len:80});
  dFeatureTicks.forEach((v, i) => {
    seg(g, 'd-x-tick', x(v), 468.5, x(v), 478, '#000', 2.5);
    label(g, 'd-x-tick-label', String(v), x(v) + (v === 0 || v === 40 ? 0 : 7), 509, {size:29, len:v ? 34 : 16});
  });
  dYTicks.forEach(v => {
    seg(g, 'd-y-tick', 1896, y(v) + 6, 1923, y(v), '#000', 3);
    label(g, 'd-y-tick-label', v.toFixed(3), 1886, y(v) + 4, {size:26, rot:-90, len:59});
  });
})();

/* ---------- Panel E ---------- */
(function () {
  const g = document.getElementById('panelE');
  const x = i => 162 + i * 28.68;
  const y = v => 1179.5 - v * 99.3;
  frame(g, 'e-plot-frame', 95, 690, 1520, 1302, 2.5);
  eYTicks.forEach(v => {
    seg(g, 'e-y-tick', 82, y(v), 95, y(v), '#000', 2.5);
    label(g, 'e-y-tick-label', neg(v), 67, y(v), {size:25, rot:-90});
  });
  eNames.forEach((name, i) => {
    const cx = x(i);
    const isShadow = name.indexOf('Shadow') === 0;
    const isRejected = name === 'Mdh1' || name === 'Kif20a';
    const fill = isShadow ? '#fff' : (isRejected ? '#d87560' : '#6ba996');
    if (eHigh[i] > eQ3[i]) {
      seg(g, 'e-whisker-high', cx, y(eQ3[i]), cx, y(eHigh[i]), '#000', 2.5, '11 9');
      seg(g, 'e-cap-high', cx - 7, y(eHigh[i]), cx + 7, y(eHigh[i]), '#000', 3);
    }
    if (eLow[i] < eQ1[i]) {
      seg(g, 'e-whisker-low', cx, y(eQ1[i]), cx, y(eLow[i]), '#000', 2.5, '11 9');
      seg(g, 'e-cap-low', cx - 7, y(eLow[i]), cx + 7, y(eLow[i]), '#000', 3);
    }
    const b = mk('rect', {x:cx - 12, y:y(eQ3[i]), width:24, height:Math.max(0, y(eQ1[i]) - y(eQ3[i])), fill:fill, stroke:'#000', 'stroke-width':2.5}, g);
    
    
    seg(g, 'e-median', cx - 12, y(eMedian[i]), cx + 12, y(eMedian[i]), '#000', 8.5);
    eOutliers[i].forEach(o => {
      const c = mk('circle', {cx:cx, cy:y(o), r:4.5, fill:'none', stroke:'#000', 'stroke-width':2.8}, g);
      
      
    });
    seg(g, 'e-x-tick', cx, 1302, cx, 1319, '#000', 2.5);
    label(g, 'e-gene-label', name, cx + 3, 1331, {size:24.5, anchor:'end', rot:-90});
  });
})();

/* ---------- Panel F ---------- */
(function () {
  const g = document.getElementById('panelF');
  const x = v => 1633.4 + v * 14.41;
  const y = v => 1180.8 - v * 99.2;
  const xs = a => a.map((_, i) => x(i));
  fGreenRuns.forEach(r => trace(g, 'f-confirmed-gene-line', xs(r), r.map(y), '#80aa9a', 3));
  trace(g, 'f-orange-gene-line', xs(fOrangeRun), fOrangeRun.map(y), '#dc7b66', 3);
  trace(g, 'f-red-gene-line', xs(fRedRun), fRedRun.map(y), '#e8242a', 3);
  trace(g, 'f-shadow-min-line', xs(fBlueMin), fBlueMin.map(y), '#5d70b8', 3);
  trace(g, 'f-shadow-max-line', xs(fBlueMax), fBlueMax.map(y), '#5d70b8', 3);
  trace(g, 'f-shadow-mean-line', xs(fBlueMean), fBlueMean.map(y), '#5d70b8', 3);
  frame(g, 'f-plot-frame', 1606, 692.5, 2352, 1302.5, 2.5);
  fXTicks.forEach(v => {
    seg(g, 'f-x-tick', x(v), 1302.5, x(v), 1313, '#000', 2.5);
    label(g, 'f-x-tick-label', String(v), x(v) + 4, 1345, {size:28, len:v ? 19 : 9});
  });
  fYTicks.forEach(v => {
    seg(g, 'f-y-tick', 1596, y(v), 1606, y(v), '#000', 2.5);
    label(g, 'f-y-tick-label', neg(v), 1586, y(v) - (v < 0 ? -4 : 7), {size:28, rot:-90});
  });
})();

/* ---------- Panel H ---------- */
(function () {
  const g = document.getElementById('panelH');
  function bars(prefix, means, uppers, ticks, axisX, axisEnd, y0, y1, maxV, c0, dc, barW, tickEnd, labelY, tickLabelX, labelShift) {
    const y = v => y0 - (v / maxV) * (y0 - y1);
    const cx = i => c0 + i * dc;
    const strokes = ['#85b8a6', '#df7f62'];
    const fills = ['#bcd9ce', '#eebcae'];
    means.forEach((m, i) => {
      seg(g, prefix + '-error-line', cx(i), y(m), cx(i), y(uppers[i]), strokes[i], 3);
      seg(g, prefix + '-error-cap', cx(i) - 16, y(uppers[i]), cx(i) + 16, y(uppers[i]), strokes[i], 3);
      const left = cx(i) - barW / 2 + 4.5;
      const right = cx(i) + barW / 2 - 4.5;
      const top = y(m) + 4.5;
      const f = mk('rect', {x:left, y:top, width:right - left, height:Math.max(0, y0 - top), fill:fills[i]}, g);
      
      
      const r = mk('path', {d:'M' + left + ' ' + y0 + ' L' + left + ' ' + top + ' L' + right + ' ' + top + ' L' + right + ' ' + y0, fill:'none', stroke:strokes[i], 'stroke-width':9}, g);
      
      
      seg(g, prefix + '-x-tick', cx(i), y0, cx(i), tickEnd, '#000', 3.5);
      label(g, prefix + '-group-label', hGroups[i], cx(i) + labelShift, labelY, {size:26, bold:true});
    });
    seg(g, prefix + '-y-axis', axisX, y1 - 1.5, axisX, y0 + 1.5, '#000', 3.5);
    seg(g, prefix + '-x-axis', axisX - 13, y0, axisEnd, y0, '#000', 3.5);
    ticks.forEach(v => {
      seg(g, prefix + '-y-tick', axisX - 13, y(v), axisX, y(v), '#000', 3.5);
      label(g, prefix + '-y-tick-label', String(v), tickLabelX, y(v) + 9, {size:26, bold:true, anchor:'end', len:v >= 10 ? 31 : 15});
    });
  }
  bars('h-cldn3', hCldn3Mean, hCldn3Upper, hCldn3Ticks, 1036, 1253, 2020.8, 1697.5, 10, 1097.6, 92.3, 65, 2033, 2060, 1022, 7);
  bars('h-cd44', hCd44Mean, hCd44Upper, hCd44Ticks, 1383, 1605.6, 2030.3, 1697.5, 40, 1446.3, 93.2, 67, 2044, 2070, 1367, 7);
})();

/* ---------- Panel I ---------- */
(function () {
  const g = document.getElementById('panelI');
  const x = v => 1827.3 + v * 427.7;
  const y = v => 2014.3 - v * 403.1;
  const c1 = trace(g, 'roc-curve-cd44', iFpr.map(x), iTprCd44.map(y), '#4db3c9', 6.5);
  c1.setAttribute('stroke-linecap', 'round');
  const c2 = trace(g, 'roc-curve-cldn3', iFpr.map(x), iTprCldn3.map(y), '#2aa085', 6.5);
  c2.setAttribute('stroke-linecap', 'round');
  frame(g, 'i-plot-frame', 1809.7, 1569.5, 2272.3, 2031.5, 2.8);
  iTicks.forEach(v => {
    seg(g, 'i-x-tick', x(v), 2031.5, x(v), 2042, '#000', 2.5);
    label(g, 'i-x-tick-label', v.toFixed(1), x(v) + 4, 2066, {size:25, len:33});
    seg(g, 'i-y-tick', 1799.5, y(v), 1809.7, y(v), '#000', 2.5);
    label(g, 'i-y-tick-label', v.toFixed(1), 1781, y(v) - 8, {size:25, rot:-90, len:33});
  });
})();
</script>
</body>
</html>
